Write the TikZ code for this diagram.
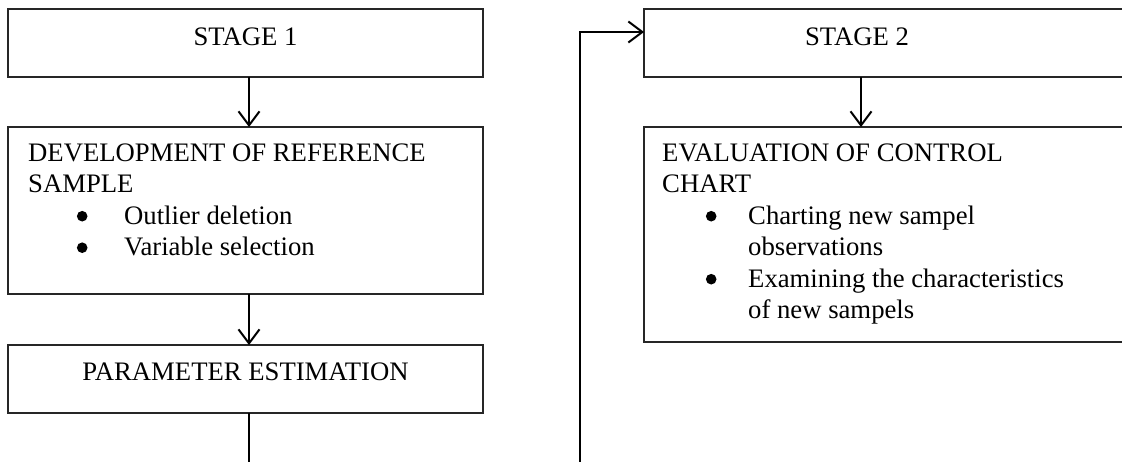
\documentclass[tikz,border=0pt]{standalone}
\usepackage{fontspec}
\setmainfont{Liberation Serif}
\usetikzlibrary{arrows.meta}
\newcommand{\bigdot}{\raisebox{2.5pt}{\tikz\fill (0pt,0pt) circle[radius=5.3pt];}}
\newcommand{\bl}[2]{\hspace*{#1}\makebox[0pt]{\bigdot}\hspace*{#2}}
\begin{document}
\begin{tikzpicture}[x=1pt,y=-1pt,
  box/.style={draw=black!85, line width=1.4pt, rectangle, inner sep=0pt, outer sep=0pt},
  conn/.style={line width=2pt},
  arr/.style={conn,-{Straight Barb[length=14pt,width=21pt,line width=2pt]}},
  txt/.style={inner sep=0pt, font=\fontsize{26.7}{31.5}\selectfont}]
\useasboundingbox (0,0) rectangle (1122,461);
\clip (0,0) rectangle (1122,461);
% boxes
\node[box, minimum width=475pt, minimum height=68pt] (s1) at (245.5,43) {};
\node[box, minimum width=475pt, minimum height=167pt] (dev) at (245.5,210.5) {};
\node[box, minimum width=475pt, minimum height=68pt] (par) at (245.5,379) {};
\node[box, minimum width=520pt, minimum height=68pt] (s2) at (904,43) {};
\node[box, minimum width=520pt, minimum height=215pt] (ev) at (904,234.5) {};
% texts
\node[txt, anchor=base] (t1) at (245.5,45) {STAGE 1};
\node[txt, anchor=base] (t2) at (857,45) {STAGE 2};
\node[txt, anchor=base] (t3) at (245.5,380) {PARAMETER ESTIMATION};
\node[txt, anchor=base west] (t4) at (28,161) {\parbox[t]{450pt}{\raggedright
DEVELOPMENT OF REFERENCE\\
SAMPLE\\
\bl{54pt}{42pt}Outlier deletion\\
\bl{54pt}{42pt}Variable selection}};
\node[txt, anchor=base west] (t5) at (662,161) {\parbox[t]{450pt}{\raggedright
EVALUATION OF CONTROL\\
CHART\\
\bl{49pt}{37pt}Charting new sampel\\
\hspace*{86pt}observations\\
\bl{49pt}{37pt}Examining the characteristics\\
\hspace*{86pt}of new sampels}};
% connectors
\coordinate (a1) at (249,0);
\coordinate (a2) at (861,0);
\coordinate (lp) at (580,32);
\coordinate (bt) at (0,495);
\draw[arr] (s1.south -| a1) -- (dev.north -| a1);
\draw[arr] (dev.south -| a1) -- (par.north -| a1);
\draw[arr] (s2.south -| a2) -- (ev.north -| a2);
\draw[arr] (par.south -| a1) -- (bt -| a1) -| (lp) -- (lp -| s2.west);
\end{tikzpicture}
\end{document}
